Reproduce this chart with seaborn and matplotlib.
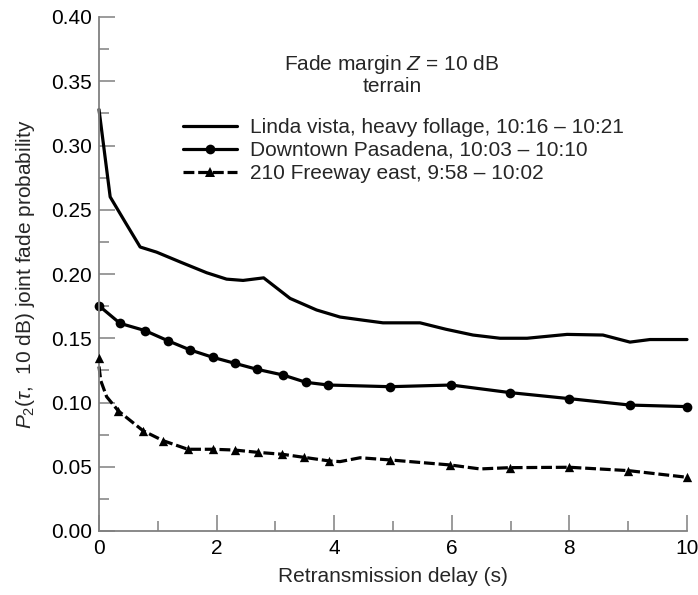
import matplotlib
matplotlib.use("Agg")
import matplotlib.pyplot as plt
import seaborn as sns
import pandas as pd
from matplotlib.lines import Line2D

# ---- data ----
linda_x = [0.0, 0.19, 0.45, 0.70, 0.98, 1.4, 1.83, 2.17, 2.45, 2.8, 3.25, 3.7, 4.1, 4.5, 4.83, 5.46, 5.9, 6.36, 6.82, 7.28, 7.96, 8.57, 9.03, 9.37, 10.0]
linda_y = [0.328, 0.260, 0.240, 0.221, 0.217, 0.209, 0.201, 0.196, 0.195, 0.197, 0.181, 0.172, 0.1665, 0.164, 0.162, 0.162, 0.157, 0.1525, 0.150, 0.150, 0.153, 0.1525, 0.147, 0.149, 0.149]

pas_x = [0.0, 0.357, 0.78, 1.18, 1.55, 1.94, 2.31, 2.69, 3.13, 3.52, 3.90, 4.95, 5.99, 6.99, 8.0, 9.03, 10.0]
pas_y = [0.1753, 0.1616, 0.156, 0.1479, 0.1409, 0.1351, 0.1305, 0.1258, 0.1214, 0.1157, 0.1136, 0.1123, 0.1136, 0.1077, 0.103, 0.098, 0.0968]

fwy_x = [0.0, 0.03, 0.13, 0.33, 0.75, 1.09, 1.51, 1.94, 2.31, 2.70, 3.12, 3.49, 3.92, 4.1, 4.44, 4.95, 5.97, 6.48, 6.99, 8.0, 9.0, 10.0]
fwy_y = [0.128, 0.117, 0.1045, 0.0934, 0.078, 0.0703, 0.0636, 0.0636, 0.063, 0.0612, 0.0597, 0.0573, 0.0545, 0.054, 0.057, 0.0553, 0.0514, 0.0483, 0.0493, 0.0496, 0.047, 0.0418]
fwy_mx = [0.0, 0.33, 0.75, 1.09, 1.51, 1.94, 2.31, 2.70, 3.12, 3.49, 3.92, 4.95, 5.97, 6.99, 8.0, 9.0, 10.0]
fwy_my = [0.135, 0.0934, 0.078, 0.0703, 0.0636, 0.0636, 0.063, 0.0612, 0.0597, 0.0573, 0.0545, 0.0553, 0.0514, 0.0493, 0.0496, 0.047, 0.0418]

labels = ["Linda vista, heavy follage, 10:16 \u2013 10:21",
          "Downtown Pasadena, 10:03 \u2013 10:10",
          "210 Freeway east, 9:58 \u2013 10:02"]

sns.set_style("ticks")
plt.rcParams["font.family"] = ["Liberation Sans", "DejaVu Sans"]
plt.rcParams["mathtext.fontset"] = "custom"
plt.rcParams["mathtext.rm"] = "Liberation Sans"
plt.rcParams["mathtext.it"] = "Liberation Sans:italic"

FS = 15

fig = plt.figure(figsize=(6.98, 5.95), dpi=100)
ax = fig.add_axes([99/698, 1 - 531/595, 588/698, 514/595])

lw = 2.3
dash = (0, (3.4, 1.2))
sns.lineplot(x=linda_x, y=linda_y, ax=ax, color="black", lw=lw, sort=False, estimator=None, clip_on=False)
sns.lineplot(x=pas_x, y=pas_y, ax=ax, color="black", lw=lw, sort=False, estimator=None,
             marker="o", markersize=7, markeredgewidth=0, clip_on=False)
sns.lineplot(x=fwy_x, y=fwy_y, ax=ax, color="black", lw=lw, sort=False, estimator=None,
             linestyle=dash, clip_on=False)
sns.scatterplot(x=fwy_mx, y=fwy_my, ax=ax, color="black", marker="^", s=45, linewidth=0,
                zorder=3, clip_on=False)

ax.set_xlim(0, 10)
ax.set_ylim(0, 0.40)
ax.set_xticks([0, 2, 4, 6, 8, 10])
ax.set_xticks([1, 3, 5, 7, 9], minor=True)
yt = [0.0, 0.05, 0.10, 0.15, 0.20, 0.25, 0.30, 0.35, 0.40]
ax.set_yticks(yt)
ax.set_yticks([0.025 + 0.05 * i for i in range(8)], minor=True)
ax.set_yticklabels([f"{v:.2f}" for v in yt])
ax.tick_params(which="major", direction="in", length=11.5, width=1.1, color="#808080",
               labelsize=FS, pad=5, labelcolor="black")
ax.tick_params(which="minor", direction="in", length=7.5, width=1.1, color="#808080")
ax.tick_params(axis="x", which="major", pad=6)
for s in ["top", "right"]:
    ax.spines[s].set_visible(False)
for s in ["left", "bottom"]:
    ax.spines[s].set_color("#808080")
    ax.spines[s].set_linewidth(1.3)

ax.set_xlabel("Retransmission delay (s)", fontsize=FS, labelpad=6)
ax.set_ylabel(r"$P_2$($\tau$,  10 dB) joint fade probability", fontsize=FS, labelpad=10)

ax.text(0.498, 0.908, r"Fade margin $Z$ = 10 dB", transform=ax.transAxes,
        ha="center", va="center", fontsize=FS)
ax.text(0.498, 0.864, "terrain", transform=ax.transAxes,
        ha="center", va="center", fontsize=FS)

handles = [
    Line2D([], [], color="black", lw=lw),
    Line2D([], [], color="black", lw=lw, marker="o", markersize=7, markeredgewidth=0),
    Line2D([], [], color="black", lw=lw, linestyle=dash, marker="^", markersize=6.5, markeredgewidth=0),
]
leg = ax.legend(handles, labels, loc="upper left", bbox_to_anchor=(183/698, 1 - 118/595),
                bbox_transform=fig.transFigure, frameon=False, fontsize=FS,
                handlelength=2.6, handletextpad=0.62, labelspacing=0.19, borderpad=0,
                borderaxespad=0, markerfirst=True)

fig.savefig("out.png", dpi=100)
